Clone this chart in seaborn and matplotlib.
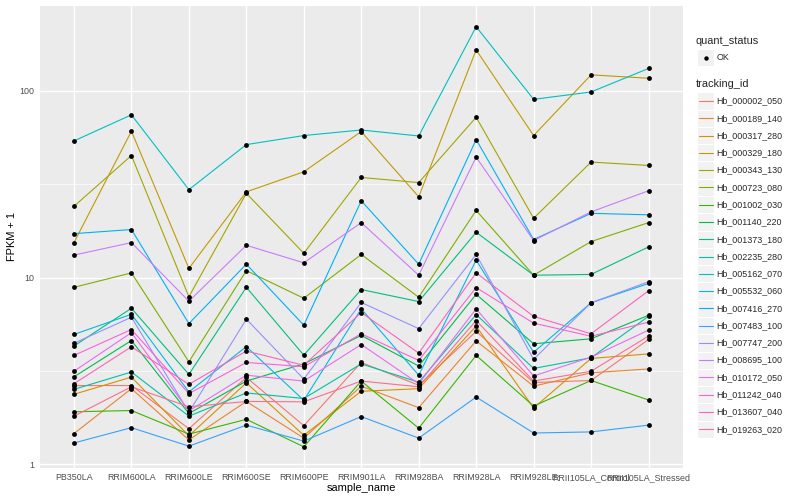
import numpy as np
import pandas as pd
import matplotlib
matplotlib.use("Agg")
import matplotlib.pyplot as plt
import seaborn as sns
from matplotlib.patches import Rectangle
from matplotlib.lines import Line2D

# ---------------- data ----------------
samples = ["PB350LA", "RRIM600LA", "RRIM600LE", "RRIM600SE", "RRIM600PE",
           "RRIM901LA", "RRIM928BA", "RRIM928LA", "RRIM928LE",
           "RRII105LA_Control", "RRII105LA_Stressed"]

tracking_ids = ["Hb_000002_050", "Hb_000189_140", "Hb_000317_280", "Hb_000329_180",
                "Hb_000343_130", "Hb_000723_080", "Hb_001002_030", "Hb_001140_220",
                "Hb_001373_180", "Hb_002235_280", "Hb_005162_070", "Hb_005532_060",
                "Hb_007416_270", "Hb_007483_100", "Hb_007747_200", "Hb_008695_100",
                "Hb_010172_050", "Hb_011242_040", "Hb_013607_040", "Hb_019263_020"]

hb_000002_050 = [2.64, 2.64, 1.55, 2.92, 1.61, 3.51, 2.65, 5.15, 2.74, 2.81, 4.66]
hb_000189_140 = [1.46, 2.54, 1.35, 2.17, 1.38, 2.62, 2.01, 4.58, 2.62, 3.09, 3.24]
hb_000317_280 = [2.37, 2.93, 1.42, 2.73, 1.43, 2.46, 2.54, 5.50, 2.00, 3.69, 3.90]
hb_000329_180 = [15.4, 60.9, 11.2, 28.8, 36.9, 60.6, 27.1, 166.0, 57.7, 122.0, 117.0]
hb_000343_130 = [24.1, 45.1, 7.9, 28.3, 13.5, 34.4, 32.3, 72.3, 20.8, 41.6, 39.9]
hb_000723_080 = [8.87, 10.6, 3.54, 10.9, 7.75, 13.3, 7.85, 22.9, 10.3, 15.6, 19.7]
hb_001002_030 = [1.91, 1.94, 1.45, 1.74, 1.24, 2.79, 1.56, 3.83, 2.05, 2.81, 2.21]
hb_001140_220 = [2.94, 4.60, 1.87, 2.79, 3.45, 4.90, 3.36, 8.14, 4.42, 4.70, 6.28]
hb_001373_180 = [4.30, 6.85, 3.03, 8.87, 3.84, 8.63, 7.44, 17.5, 10.3, 10.4, 14.6]
hb_002235_280 = [2.52, 3.12, 1.81, 2.41, 2.25, 3.45, 2.75, 6.34, 3.26, 3.72, 6.20]
hb_005162_070 = [54.0, 74.5, 29.6, 51.6, 57.7, 61.8, 57.4, 221.0, 90.2, 98.8, 132.0]
hb_005532_060 = [4.96, 6.36, 2.44, 4.27, 2.20, 6.80, 3.00, 12.4, 3.98, 7.33, 9.30]
hb_007416_270 = [17.2, 18.1, 5.67, 11.8, 5.56, 25.8, 11.8, 54.9, 16.0, 22.1, 21.7]
hb_007483_100 = [1.30, 1.57, 1.25, 1.62, 1.33, 1.80, 1.38, 2.29, 1.47, 1.49, 1.62]
hb_007747_200 = [4.45, 6.13, 1.90, 5.99, 2.86, 7.36, 5.33, 13.3, 3.65, 7.33, 9.50]
hb_008695_100 = [13.2, 15.4, 7.47, 14.9, 12.0, 19.7, 10.3, 44.2, 15.8, 22.5, 29.2]
hb_010172_050 = [3.15, 5.07, 1.93, 3.00, 2.79, 4.38, 2.70, 6.80, 2.97, 3.75, 5.23]
hb_011242_040 = [3.83, 5.27, 2.39, 3.51, 3.33, 5.00, 3.60, 8.84, 5.70, 4.85, 5.77]
hb_013607_040 = [2.70, 4.26, 2.68, 4.04, 3.39, 6.50, 3.94, 10.6, 6.20, 5.00, 8.50]
hb_019263_020 = [1.81, 2.60, 2.03, 2.17, 2.16, 2.79, 2.60, 5.89, 2.79, 3.15, 4.86]

series = [hb_000002_050, hb_000189_140, hb_000317_280, hb_000329_180, hb_000343_130,
          hb_000723_080, hb_001002_030, hb_001140_220, hb_001373_180, hb_002235_280,
          hb_005162_070, hb_005532_060, hb_007416_270, hb_007483_100, hb_007747_200,
          hb_008695_100, hb_010172_050, hb_011242_040, hb_013607_040, hb_019263_020]

quant_status = "OK"

# ggplot2 default hue palette for 20 levels
palette = ["#F8766D", "#EA8331", "#D89000", "#C09B00", "#A3A500", "#7CAE00",
           "#39B600", "#00BB4E", "#00BF7D", "#00C1A3", "#00BFC4", "#00BAE0",
           "#00B0F6", "#35A2FF", "#9590FF", "#C77CFF", "#E76BF3", "#FA62DB",
           "#FF62BC", "#FF6C91"]

rows = []
for tid, vals in zip(tracking_ids, series):
    for s, v in zip(samples, vals):
        rows.append((tid, s, v, quant_status))
df = pd.DataFrame(rows, columns=["tracking_id", "sample_name", "fpkm1", "quant_status"])

# ---------------- figure ----------------
sns.set_style("white")
plt.rcParams['font.family'] = ['Liberation Sans', 'DejaVu Sans']

W, H = 800, 500
fig = plt.figure(figsize=(8, 5), dpi=100)
px_left, px_right, px_top, px_bottom = 39.5, 683.0, 5.7, 467.8
ax = fig.add_axes([px_left / W, 1 - px_bottom / H,
                   (px_right - px_left) / W, (px_bottom - px_top) / H])
ax.set_facecolor("#EBEBEB")

sns.lineplot(data=df, x="sample_name", y="fpkm1", hue="tracking_id",
             hue_order=tracking_ids, palette=palette, sort=False,
             estimator=None, legend=False, linewidth=0.8, ax=ax, zorder=2)
sns.scatterplot(data=df, x="sample_name", y="fpkm1", color="black", s=12,
                linewidth=0, legend=False, ax=ax, zorder=3)

ax.set_yscale("log")
ax.set_yticks([1, 10, 100])
ax.set_yticklabels(["1", "10", "100"])
ax.set_yticks([10 ** 0.5, 10 ** 1.5, 10 ** 2.5], minor=True)
ax.set_yticklabels([], minor=True)
ax.set_xticks(range(len(samples)))
ax.set_xticklabels(samples)

lmin, lmax = np.log10(df["fpkm1"].min()), np.log10(df["fpkm1"].max())
pad = 0.05 * (lmax - lmin)
ax.set_ylim(10 ** (lmin - pad), 10 ** (lmax + pad))
ax.set_xlim(-0.6, len(samples) - 0.4)

ax.set_axisbelow(True)
ax.grid(which="major", color="white", linewidth=1.0)
ax.grid(which="minor", axis="y", color="white", linewidth=0.5)
for sp in ax.spines.values():
    sp.set_visible(False)

ax.tick_params(axis="both", which="major", length=2.0, width=0.7, color="#333333",
               labelcolor="#4D4D4D", labelsize=6.4, pad=1.6)
ax.tick_params(axis="y", which="minor", length=0)

ax.set_xlabel("sample_name", fontsize=7.9, color="black")
ax.set_ylabel("FPKM + 1", fontsize=7.9, color="black")
ax.xaxis.set_label_coords(0.5, -(488.3 - px_bottom) / (px_bottom - px_top))
ax.xaxis.label.set_va("center")
ax.yaxis.set_label_coords(-(px_left - 12) / (px_right - px_left), 0.5)
ax.yaxis.label.set_va("center")

# ---------------- legend (drawn in pixel coords) ----------------
lax = fig.add_axes([0, 0, 1, 1], facecolor="none")
lax.set_xlim(0, W)
lax.set_ylim(H, 0)
lax.axis("off")

key = 17.28
lax.text(696, 40.7, "quant_status", fontsize=7.9, va="center", ha="left")
lax.add_patch(Rectangle((697, 49), key, key, facecolor="#F2F2F2", edgecolor="white", lw=0.8))
lax.plot([705.6], [57.6], marker="o", color="black", ms=3.2, mew=0)
lax.text(716.7, 57.6, quant_status, fontsize=6.4, va="center", ha="left")

lax.text(696, 84.3, "tracking_id", fontsize=7.9, va="center", ha="left")
for i, (tid, col) in enumerate(zip(tracking_ids, palette)):
    yc = 101.0 + i * key
    lax.add_patch(Rectangle((697, yc - key / 2), key, key, facecolor="#F2F2F2",
                            edgecolor="white", lw=0.8))
    lax.add_line(Line2D([698.5, 712.8], [yc, yc], color=col, lw=0.8))
    lax.text(716.7, yc, tid, fontsize=6.4, va="center", ha="left")

fig.savefig("out.png", dpi=100)
